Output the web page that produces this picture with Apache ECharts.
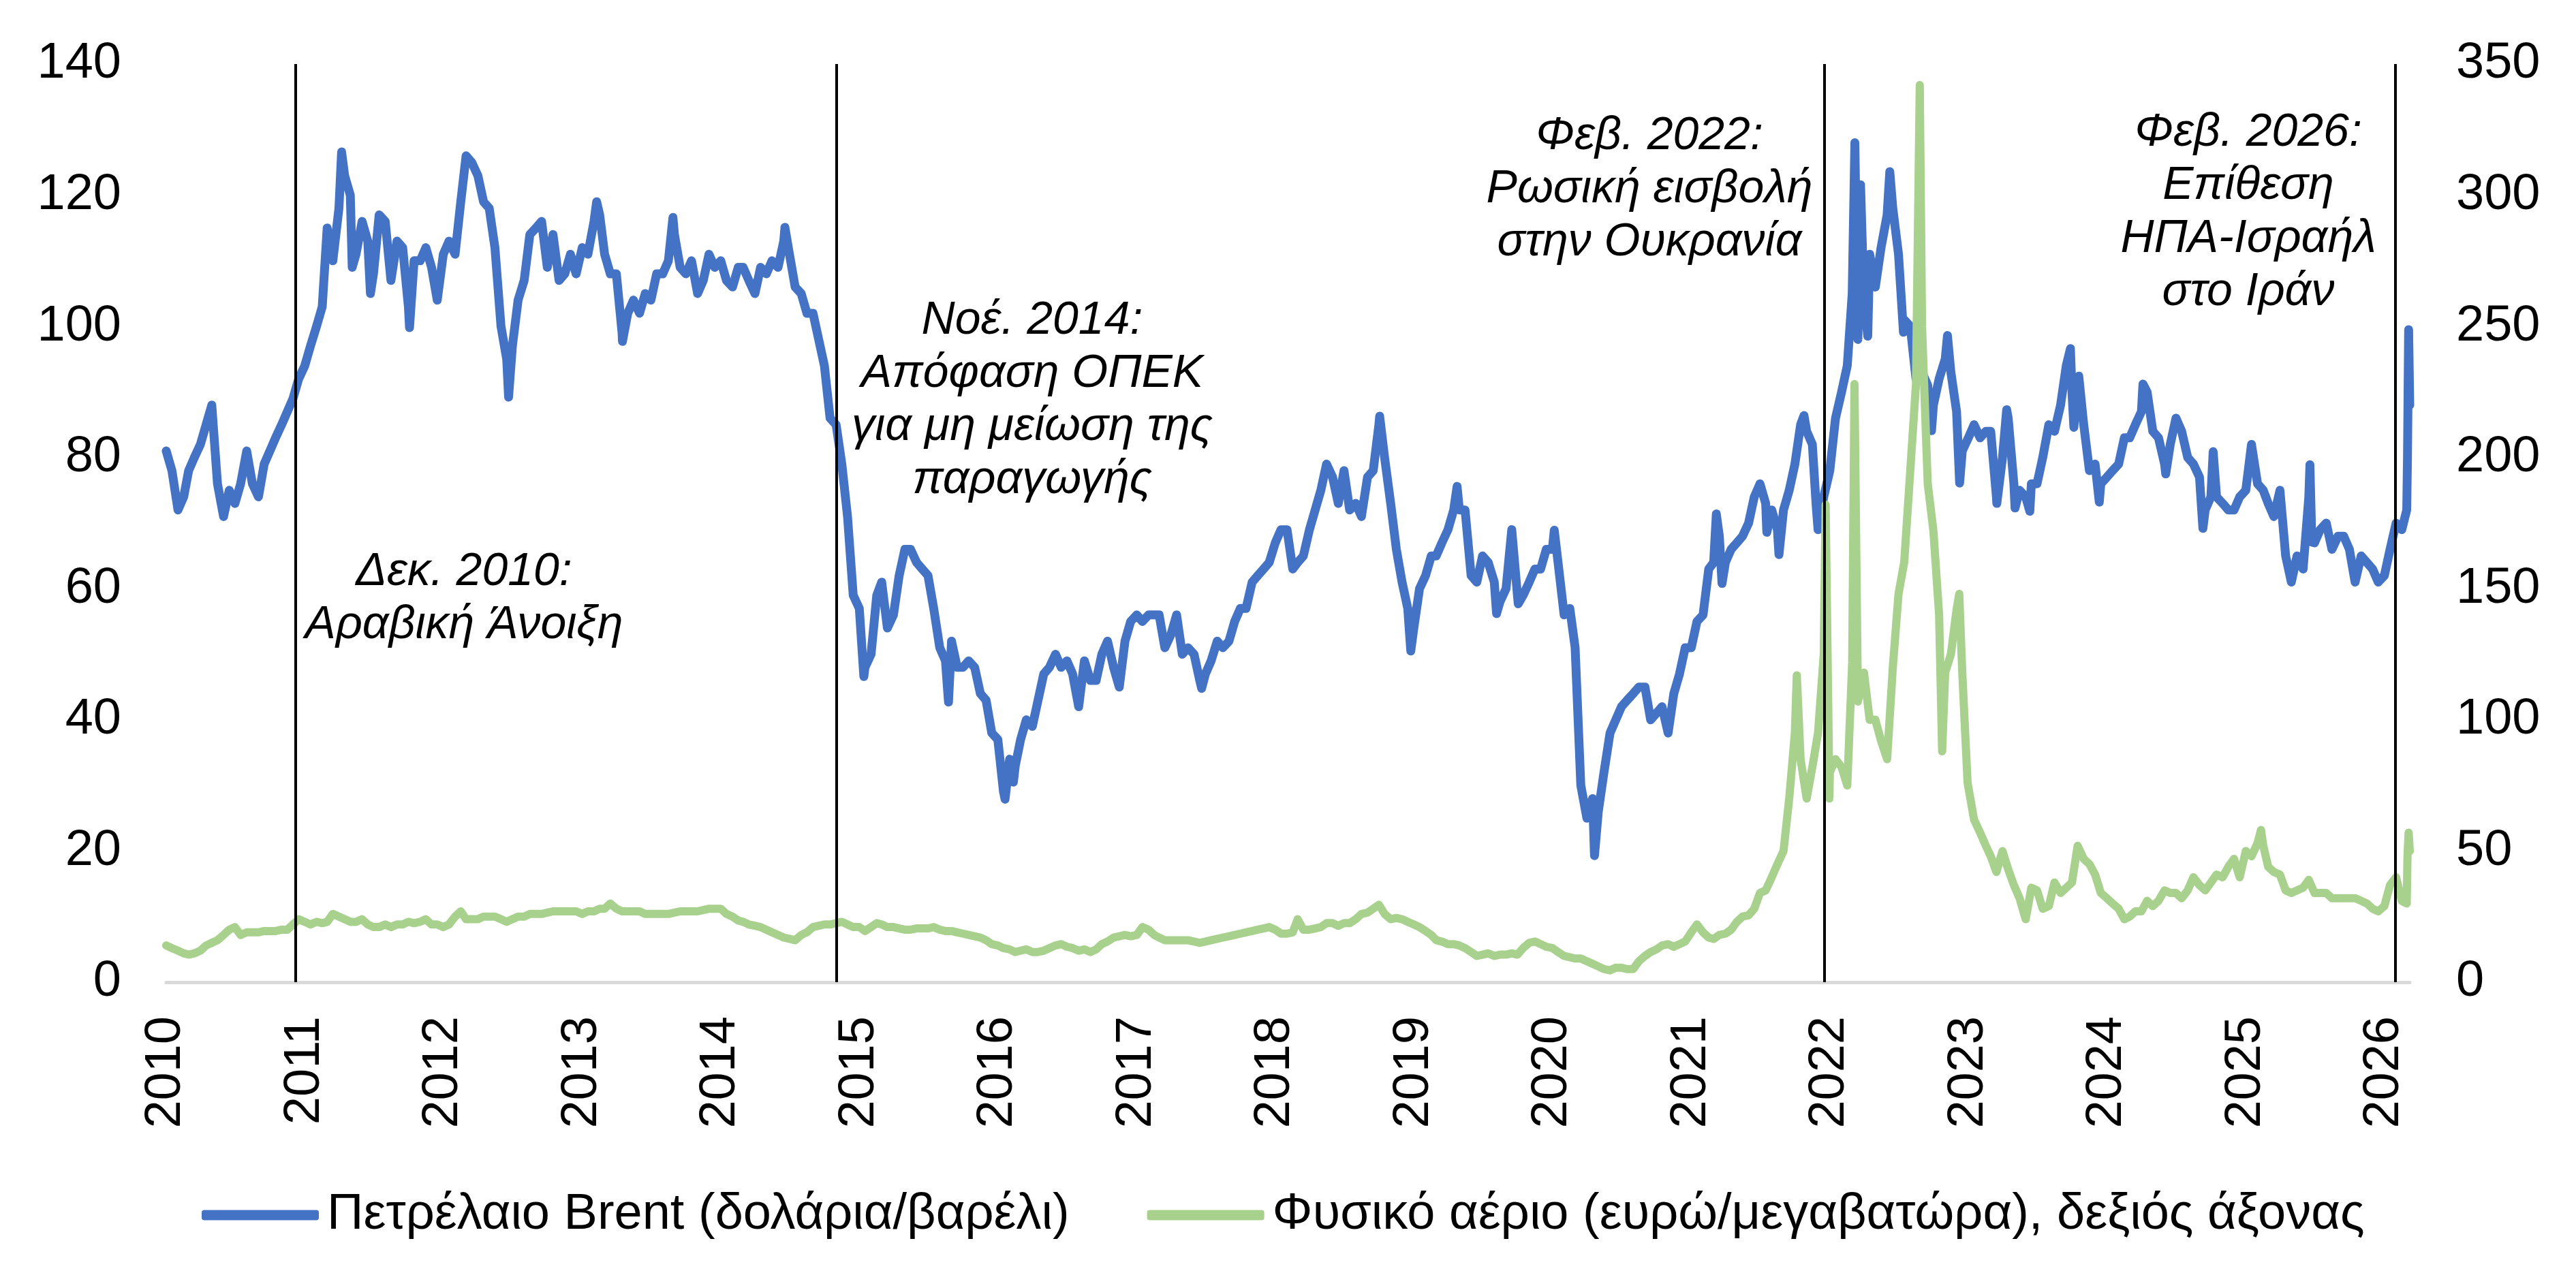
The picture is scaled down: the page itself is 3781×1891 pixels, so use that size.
<!DOCTYPE html>
<html>
<head>
<meta charset="utf-8">
<script src="https://cdn.jsdelivr.net/npm/echarts@6/dist/echarts.min.js"></script>
<style>
html,body{margin:0;padding:0;background:#ffffff;}
#chart{width:3781px;height:1891px;}
</style>
</head>
<body>
<div id="chart"></div>
<script>
// ---------- DATA ----------
// Semi-monthly samples (1st and 16th of each month).
const brent2010 = [81,78,72,74,78,80,82,85,88,76,71,75,73,76,81,76,74,79,81,83,85,87,89,92];
const brent2011 = [94,97,100,103,115,110,118,123,120,111,116,113,108,117,116,107,113,112,103,110,110,112,109,104];
const brent2012 = [111,113,111,119,126,125,123,119,118,112,100,95,97,104,107,114,115,116,109,114,107,108,111,108];
const brent2013 = [112,111,116,117,111,108,108,99,102,104,102,105,104,108,108,110,114,109,108,110,105,107,111,109];
const brent2014 = [110,107,106,109,109,107,105,109,108,110,109,113,111,106,105,102,102,98,94,86,85,79,71,59];
const brent2015 = [57,48,50,59,61,54,56,62,66,66,64,63,62,57,51,49,52,48,48,49,48,44,43,38];
const brent2016 = [37,29,34,33,37,40,39,43,47,48,50,48,49,47,42,49,46,46,50,52,48,45,52,55];
const brent2017 = [56,55,56,56,56,51,53,56,50,51,50,46,47,49,52,51,52,55,57,57,61,62,63,64];
const brent2018 = [67,69,69,63,64,65,69,72,75,79,77,73,78,72,73,71,77,78,85,80,73,66,61,57];
const brent2019 = [54,60,62,65,65,67,69,72,72,72,62,61,65,64,61,58,60,69,59,59,61,63,63,66];
const brent2020 = [66,64,56,57,51,30,25,28,26,32,38,40,42,43,44,45,45,40,41,42,38,44,47,51];
const brent2021 = [51,55,56,63,64,68,64,66,67,68,70,74,76,73,72,69,72,75,79,85,84,82,69,74];
const brent2022 = [78,86,90,94,105,98,104,111,106,112,117,118,111,101,100,92,93,91,88,92,95,93,87,81];
const brent2023 = [83,85,83,84,84,74,80,86,76,75,74,76,76,80,85,84,88,94,90,91,85,78,79,76];
const brent2024 = [77,78,79,83,83,85,87,90,84,83,79,82,86,84,80,79,77,72,74,74,73,72,72,74];
const brent2025 = [75,82,76,75,73,71,75,65,61,65,63,74,67,69,70,66,68,68,66,61,65,64,63,61];
const brent2026 = [62,66,70,69,72];
const brentExtra = [
  ['2011-04-08',126.6],['2011-05-06',109],['2011-06-23',105],['2011-10-04',99.8],
  ['2012-06-21',89.2],['2013-02-08',119],['2013-04-17',97.7],['2013-08-28',116.6],
  ['2014-06-19',115.1],['2015-01-13',46.6],['2015-08-24',42.7],['2016-01-20',27.9],
  ['2016-02-11',30.5],['2017-06-21',44.8],['2018-10-03',86.3],['2018-12-24',50.5],
  ['2019-04-25',75.6],['2019-08-07',56.2],['2019-10-03',57.7],['2020-01-06',68.9],
  ['2020-04-21',19.3],['2021-03-08',71.4],['2021-03-23',60.8],['2021-07-19',68.6],
  ['2021-08-20',65.2],['2021-10-25',86.4],['2021-11-26',72.7],
  ['2022-03-08',128],['2022-03-23',121.6],['2022-04-11',98.5],['2022-06-08',123.6],
  ['2022-07-14',99.1],['2022-09-26',84.1],['2022-11-07',98.6],['2022-12-09',76.1],
  ['2023-03-17',73],['2023-04-12',87.3],['2023-05-04',72.3],['2023-06-12',71.8],
  ['2023-09-27',96.6],['2023-10-06',84.6],['2023-10-19',92.4],['2023-12-12',73.2],
  ['2024-04-05',91.2],['2024-06-04',77.5],['2024-09-10',69.2],['2024-10-07',80.9],
  ['2025-06-19',78.9],['2025-06-24',67.1],
  ['2026-03-03',80],['2026-03-06',99.5],['2026-03-09',88]
];

const gas2010 = [14,13,12,11,10.5,11,12,14,15,16,18,20,21,18,19,19,19,19.5,19.5,19.5,20,20,22,24];
const gas2011 = [23,22,23,22.5,23,26,25,24,23,23,24,22,21,21,22,21,22,22,23,22.5,23,24,22,22];
const gas2012 = [21,22,25,27,24,24,24,25,25,25,24,23,24,25,25,26,26,26,26.5,27,27,27,27,27];
const gas2013 = [26,27,27,28,28,30,28,27,27,27,27,26,26,26,26,26,26.5,27,27,27,27,27.5,28,28];
const gas2014 = [28,26,25,23.5,23,22,21.5,21,20,19,18,17,16.5,16,18,19,21,21.5,22,22,22.5,23,22,21];
const gas2015 = [21,19.5,21,22.5,22,21,21,20.5,20,20,20.5,20.5,20.5,21,20,19.5,19.5,19,18.5,18,17.5,17,16,14.5];
const gas2016 = [14,13,12.5,11.5,12,12.5,11.5,11.5,12,13,14,14.5,13.5,13,12,12.5,11.5,12.5,14.5,15.5,17,17.5,18,17.5];
const gas2017 = [18,21,20,18,17,16,16,16,16,16,15.5,15,15.5,16,16.5,17,17.5,18,18.5,19,19.5,20,20.5,21];
const gas2018 = [20,18.5,18.5,19,24,20,20,20.5,21,22.5,22.5,21.5,22.5,22.5,24,26,26.5,28,29.5,26,24,24.5,24,23];
const gas2019 = [22,21,19.5,18,16,15.5,14.5,14.5,14,13,11.5,10,10.5,11,10,10.5,10.5,11,10.5,13,15,15.5,14.5,13.5];
const gas2020 = [13,11.5,10,9.5,9,9,8,7,6,5,4.5,5.5,5.5,5,5,8,10,11.5,12.5,14,14.5,13.5,14.5,15.5];
const gas2021 = [19,22,19,17,16.5,18,18.5,20,23,25,25.5,28,34,35,40,45,50,70,95,85,70,82,95,125];
const gas2022 = [80,85,82,75,122,107,118,100,100,92,85,120,148,160,195,228,250,190,172,140,118,125,142,118];
const gas2023 = [76,62,57,52,48,42,50,43,37,32,24,36,35,28,29,38,34,36,38,52,47,45,41,34];
const gas2024 = [32,30,28,24,25,27,27,31,29,31,35,34,34,32,35,40,37,35,38,41,40,44,47,40];
const gas2025 = [50,48,53,52,44,42,41,35,34,35,36,39,34,34,34,32,32,32,32,32,31,30,28,27];
const gas2026 = [29,37,40,31,30];
const gasExtra = [
  ['2021-10-06',117],['2021-12-21',182],['2021-12-31',70],
  ['2022-03-07',228],['2022-08-26',342],['2022-10-24',88],['2022-12-08',148],['2022-12-30',76],
  ['2025-02-10',58],
  ['2026-03-03',48],['2026-03-06',57],['2026-03-09',50]
];

const firstYear = 2010;
const axisStart = '2010-01-01';
const axisEnd = '2026-03-09';
const seriesNames = ['Πετρέλαιο Brent (δολάρια/βαρέλι)', 'Φυσικό αέριο (ευρώ/μεγαβατώρα), δεξιός άξονας'];
const eventDates = ['2010-12-07', '2014-11-02', '2021-12-17', '2026-01-30'];
const eventTexts = [
  'Δεκ. 2010:\nΑραβική Άνοιξη',
  'Νοέ. 2014:\nΑπόφαση ΟΠΕΚ\nγια μη μείωση της\nπαραγωγής',
  'Φεβ. 2022:\nΡωσική εισβολή\nστην Ουκρανία',
  'Φεβ. 2026:\nΕπίθεση\nΗΠΑ-Ισραήλ\nστο Ιράν'
];

const brentYears = [brent2010,brent2011,brent2012,brent2013,brent2014,brent2015,brent2016,brent2017,brent2018,brent2019,brent2020,brent2021,brent2022,brent2023,brent2024,brent2025,brent2026];
const gasYears = [gas2010,gas2011,gas2012,gas2013,gas2014,gas2015,gas2016,gas2017,gas2018,gas2019,gas2020,gas2021,gas2022,gas2023,gas2024,gas2025,gas2026];

// ---------- BUILD ----------
function ts(s) { const p = s.split('-').map(Number); return new Date(p[0], p[1]-1, p[2]).getTime(); }
function build(yearArrays, extra) {
  const pts = [];
  yearArrays.forEach((arr, k) => {
    const y = firstYear + k;
    arr.forEach((v, i) => {
      pts.push([new Date(y, Math.floor(i/2), (i % 2) ? 16 : 1).getTime(), v]);
    });
  });
  extra.forEach(e => pts.push([ts(e[0]), e[1]]));
  pts.sort((a, b) => a[0] - b[0]);
  return pts;
}
const brentData = build(brentYears, brentExtra);
const gasData = build(gasYears, gasExtra);

const FONT = '"Liberation Sans", Arial, sans-serif';
const YEAR = 365 * 24 * 3600 * 1000;

// annotation layout (pixel centres of each text block)
const annotLayout = [
  {x: 681, y: 879},
  {x: 1515, y: 588},
  {x: 2421, y: 278},
  {x: 3300, y: 312}
];

const chart = echarts.init(document.getElementById('chart'), null, {renderer: 'canvas'});
chart.setOption({
  animation: false,
  backgroundColor: '#ffffff',
  grid: {left: 244, right: 244, top: 94, bottom: 449, containLabel: false},
  legend: {
    left: 291, top: 1734,
    itemWidth: 172, itemHeight: 15, itemGap: 114,
    icon: 'roundRect',
    textStyle: {fontFamily: FONT, fontSize: 74, color: '#000', padding: [0, 0, 0, 7], lineHeight: 90},
    data: seriesNames
  },
  xAxis: {
    type: 'time',
    min: ts(axisStart), max: ts(axisEnd),
    minInterval: YEAR, maxInterval: YEAR * 1.01,
    axisLine: {show: true, lineStyle: {color: '#d9d9d9', width: 5}},
    axisTick: {show: false},
    splitLine: {show: false},
    axisLabel: {
      rotate: 90, margin: 50, fontFamily: FONT, fontSize: 74, color: '#000',
      formatter: '{yyyy}', showMinLabel: true, showMaxLabel: false, hideOverlap: false
    }
  },
  yAxis: [
    {
      type: 'value', min: 0, max: 140, interval: 20, position: 'left',
      axisLine: {show: false}, axisTick: {show: false}, splitLine: {show: false},
      axisLabel: {margin: 66, fontFamily: FONT, fontSize: 74, color: '#000'}
    },
    {
      type: 'value', min: 0, max: 350, interval: 50, position: 'right',
      axisLine: {show: false}, axisTick: {show: false}, splitLine: {show: false},
      axisLabel: {margin: 68, fontFamily: FONT, fontSize: 74, color: '#000'}
    }
  ],
  series: [
    {
      name: seriesNames[0], type: 'line', yAxisIndex: 0, data: brentData,
      showSymbol: false, symbol: 'none',
      lineStyle: {color: '#4472C4', width: 13, cap: 'round', join: 'round'},
      itemStyle: {color: '#4472C4'}, z: 2
    },
    {
      name: seriesNames[1], type: 'line', yAxisIndex: 1, data: gasData,
      showSymbol: false, symbol: 'none',
      lineStyle: {color: '#A9D18E', width: 12, cap: 'round', join: 'round'},
      itemStyle: {color: '#A9D18E'}, z: 3,
      markLine: {
        silent: true, symbol: ['none', 'none'], animation: false,
        label: {show: false},
        lineStyle: {color: '#000', width: 4, type: 'solid'},
        emphasis: {disabled: true},
        data: eventDates.map(d => ({xAxis: ts(d)}))
      }
    }
  ],
  graphic: eventTexts.map((t, i) => ({
    type: 'text', x: annotLayout[i].x, y: annotLayout[i].y, z: 10,
    style: {
      text: t, fill: '#000', fontFamily: FONT, fontSize: 68, fontStyle: 'italic',
      lineHeight: 78, align: 'center', verticalAlign: 'middle'
    }
  }))
});
</script>
</body>
</html>
